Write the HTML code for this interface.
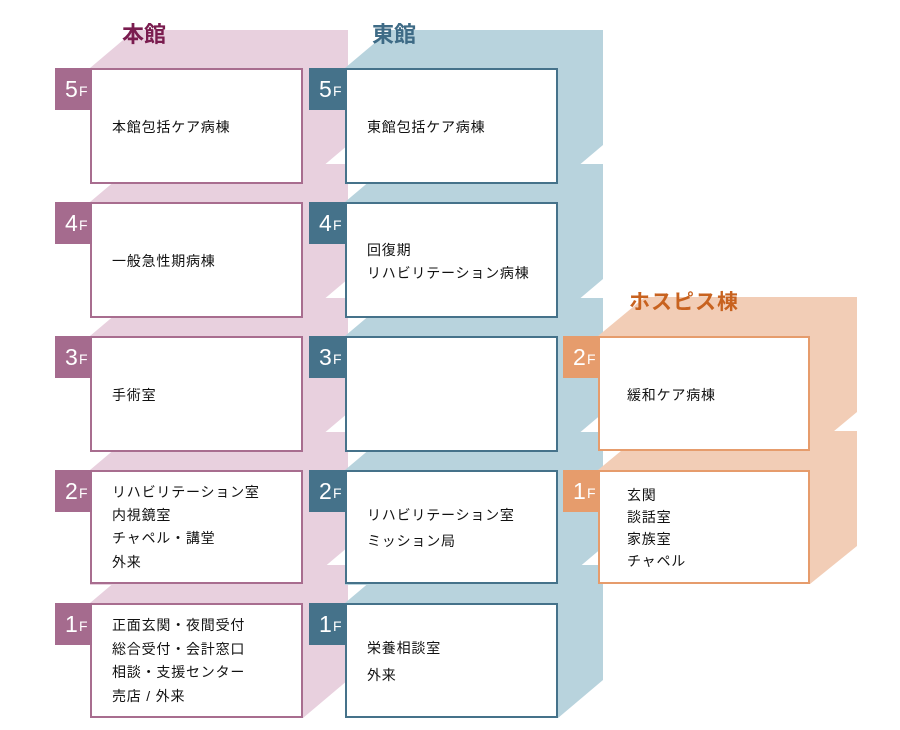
<!DOCTYPE html>
<html><head><meta charset="utf-8"><style>
html,body{margin:0;padding:0;background:#fff;}
svg{display:block;font-family:"Liberation Sans","Noto Sans CJK JP",sans-serif;}
.t{font-size:14px;fill:#111;letter-spacing:0.8px;}
.n{font-size:23px;fill:#fff;}
.f{font-size:14px;fill:#fff;}
</style></head><body>
<svg width="900" height="730" viewBox="0 0 900 730" xmlns="http://www.w3.org/2000/svg">
<g fill="#e8d0de">
<polygon points="90,68 135,30 348,30 348,145 303,183 90,183"/>
<polygon points="90,202 135,164 348,164 348,279 303,317 90,317"/>
<polygon points="90,336 135,298 348,298 348,413 303,451 90,451"/>
<polygon points="90,470 135,432 348,432 348,547 303,585 90,585"/>
<polygon points="90,603 135,565 348,565 348,680 303,718 90,718"/>
</g>
<g fill="#b8d3dd">
<polygon points="345,68 390,30 603,30 603,145 558,183 345,183"/>
<polygon points="345,202 390,164 603,164 603,279 558,317 345,317"/>
<polygon points="345,336 390,298 603,298 603,413 558,451 345,451"/>
<polygon points="345,470 390,432 603,432 603,547 558,585 345,585"/>
<polygon points="345,603 390,565 603,565 603,680 558,718 345,718"/>
</g>
<g fill="#f2cdb6">
<polygon points="598,336 645,297 857,297 857,412 810,451 598,451"/>
<polygon points="598,470 645,431 857,431 857,546 810,584 598,584"/>
</g>
<text x="122" y="42" font-size="22" font-weight="bold" fill="#7a1c4f">本館</text>
<text x="372" y="42" font-size="22" font-weight="bold" fill="#3e6b86">東館</text>
<text x="629" y="309" font-size="21" font-weight="bold" fill="#c8621f" letter-spacing="1">ホスピス棟</text>
<g fill="#fff" stroke="#a86d8f" stroke-width="2">
<rect x="91" y="69" width="211" height="114"/>
<rect x="91" y="203" width="211" height="114"/>
<rect x="91" y="337" width="211" height="114"/>
<rect x="91" y="471" width="211" height="112"/>
<rect x="91" y="604" width="211" height="113"/>
</g>
<g fill="#fff" stroke="#45728a" stroke-width="2">
<rect x="346" y="69" width="211" height="114"/>
<rect x="346" y="203" width="211" height="114"/>
<rect x="346" y="337" width="211" height="114"/>
<rect x="346" y="471" width="211" height="112"/>
<rect x="346" y="604" width="211" height="113"/>
</g>
<g fill="#fff" stroke="#e69c6c" stroke-width="2">
<rect x="599" y="337" width="210" height="113"/>
<rect x="599" y="471" width="210" height="112"/>
</g>
<g fill="#a56b8e">
<rect x="55" y="68" width="37" height="42"/><rect x="55" y="202" width="37" height="42"/>
<rect x="55" y="336" width="37" height="42"/><rect x="55" y="470" width="37" height="42"/>
<rect x="55" y="603" width="37" height="42"/>
</g>
<g fill="#45728a">
<rect x="309" y="68" width="37" height="42"/><rect x="309" y="202" width="37" height="42"/>
<rect x="309" y="336" width="37" height="42"/><rect x="309" y="470" width="37" height="42"/>
<rect x="309" y="603" width="37" height="42"/>
</g>
<g fill="#e69c6c">
<rect x="563" y="336" width="37" height="42"/><rect x="563" y="470" width="37" height="42"/>
</g>
<g>
<text class="n" x="65" y="97">5</text><text class="f" x="79" y="96">F</text>
<text class="n" x="65" y="231">4</text><text class="f" x="79" y="230">F</text>
<text class="n" x="65" y="365">3</text><text class="f" x="79" y="364">F</text>
<text class="n" x="65" y="499">2</text><text class="f" x="79" y="498">F</text>
<text class="n" x="65" y="632">1</text><text class="f" x="79" y="631">F</text>
<text class="n" x="319" y="97">5</text><text class="f" x="333" y="96">F</text>
<text class="n" x="319" y="231">4</text><text class="f" x="333" y="230">F</text>
<text class="n" x="319" y="365">3</text><text class="f" x="333" y="364">F</text>
<text class="n" x="319" y="499">2</text><text class="f" x="333" y="498">F</text>
<text class="n" x="319" y="632">1</text><text class="f" x="333" y="631">F</text>
<text class="n" x="573" y="365">2</text><text class="f" x="587" y="364">F</text>
<text class="n" x="573" y="499">1</text><text class="f" x="587" y="498">F</text>
</g>
<g>
<text class="t" x="112" y="132">本館包括ケア病棟</text>
<text class="t" x="112" y="266">一般急性期病棟</text>
<text class="t" x="112" y="400">手術室</text>
<text class="t" x="112" y="497">リハビリテーション室</text>
<text class="t" x="112" y="520">内視鏡室</text>
<text class="t" x="112" y="543">チャペル・講堂</text>
<text class="t" x="112" y="567">外来</text>
<text class="t" x="112" y="630">正面玄関・夜間受付</text>
<text class="t" x="112" y="654">総合受付・会計窓口</text>
<text class="t" x="112" y="677">相談・支援センター</text>
<text class="t" x="112" y="701">売店 / 外来</text>
<text class="t" x="367" y="132">東館包括ケア病棟</text>
<text class="t" x="367" y="255">回復期</text>
<text class="t" x="367" y="278">リハビリテーション病棟</text>
<text class="t" x="367" y="520">リハビリテーション室</text>
<text class="t" x="367" y="546">ミッション局</text>
<text class="t" x="367" y="653">栄養相談室</text>
<text class="t" x="367" y="680">外来</text>
<text class="t" x="627" y="400">緩和ケア病棟</text>
<text class="t" x="627" y="500">玄関</text>
<text class="t" x="627" y="522">談話室</text>
<text class="t" x="627" y="544">家族室</text>
<text class="t" x="627" y="566">チャペル</text>
</g>
</svg>
</body></html>
